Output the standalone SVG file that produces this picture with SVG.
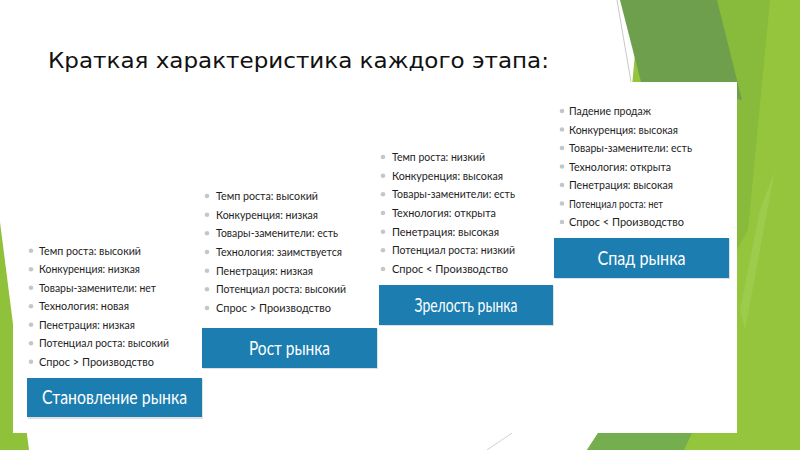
<svg xmlns="http://www.w3.org/2000/svg" width="800" height="450" viewBox="0 0 800 450">
<defs>
<style>
.title{font-family:"DejaVu Sans",Verdana,sans-serif;font-size:21px;fill:#111}
.li{font-family:Lato,"Open Sans",sans-serif;font-size:12.2px;fill:#1e1e1e}
.bl{fill:#c3c7cb}
.box{fill:#1b7db0}
.shadow{fill:#000;opacity:0.12}
.bt{font-family:Lato,"Open Sans",sans-serif;font-size:18.5px;fill:#ffffff;text-anchor:middle}
</style>
</defs>
<rect width="800" height="450" fill="#ffffff"/>
<g id="decor">
<polygon points="0,222 29,450 0,450" fill="#8fc13a"/>
<polygon points="640,0 800,0 800,450 587,450 600,430" fill="#94c53d"/>
<polygon points="717,0 770,0 748,230 737,250 700,120" fill="#88bb3b"/>
<polygon points="760,210 775,170 745,330 740,310" fill="#a4cf57" opacity="0.6"/>
<polygon points="620,0 717,0 742,100 641,82" fill="#6e9f4d"/>
<polygon points="598,433 692,433 684,450 587,450" fill="#75ae4f"/>
<line x1="617" y1="0" x2="631" y2="82" stroke="#c8c8c8" stroke-width="1"/>
<line x1="487" y1="450" x2="512" y2="433" stroke="#d0d0d0" stroke-width="1"/>
</g>
<rect x="13" y="82" width="724" height="351" fill="#ffffff"/>
<text class="title" x="48" y="68" textLength="501" lengthAdjust="spacingAndGlyphs">Краткая характеристика каждого этапа:</text>

<g id="stage1">
<g class="bl"><circle cx="31" cy="250.7" r="2.3"/><circle cx="31" cy="269.2" r="2.3"/><circle cx="31" cy="287.7" r="2.3"/><circle cx="31" cy="306.2" r="2.3"/><circle cx="31" cy="324.7" r="2.3"/><circle cx="31" cy="343.2" r="2.3"/><circle cx="31" cy="361.7" r="2.3"/></g>
<text class="li" x="39" y="254.7" textLength="102" lengthAdjust="spacingAndGlyphs">Темп роста: высокий</text>
<text class="li" x="39" y="273.2" textLength="101" lengthAdjust="spacingAndGlyphs">Конкуренция: низкая</text>
<text class="li" x="39" y="291.7" textLength="117" lengthAdjust="spacingAndGlyphs">Товары-заменители: нет</text>
<text class="li" x="39" y="310.2" textLength="90" lengthAdjust="spacingAndGlyphs">Технология: новая</text>
<text class="li" x="39" y="328.7" textLength="96" lengthAdjust="spacingAndGlyphs">Пенетрация: низкая</text>
<text class="li" x="39" y="347.2" textLength="130" lengthAdjust="spacingAndGlyphs">Потенциал роста: высокий</text>
<text class="li" x="39" y="365.7" textLength="115" lengthAdjust="spacingAndGlyphs">Спрос &gt; Производство</text>
<rect class="shadow" x="28" y="379" width="175" height="40"/>
<rect class="box" x="27" y="378" width="175" height="39"/>
<text class="bt" x="114.5" y="404" textLength="145" lengthAdjust="spacingAndGlyphs">Становление рынка</text>
</g>

<g id="stage2">
<g class="bl"><circle cx="207" cy="196" r="2.3"/><circle cx="207" cy="214.7" r="2.3"/><circle cx="207" cy="233.3" r="2.3"/><circle cx="207" cy="252" r="2.3"/><circle cx="207" cy="270.7" r="2.3"/><circle cx="207" cy="289.3" r="2.3"/><circle cx="207" cy="308" r="2.3"/></g>
<text class="li" x="216" y="200" textLength="102" lengthAdjust="spacingAndGlyphs">Темп роста: высокий</text>
<text class="li" x="216" y="218.7" textLength="102" lengthAdjust="spacingAndGlyphs">Конкуренция: низкая</text>
<text class="li" x="216" y="237.3" textLength="122" lengthAdjust="spacingAndGlyphs">Товары-заменители: есть</text>
<text class="li" x="216" y="256" textLength="126" lengthAdjust="spacingAndGlyphs">Технология: заимствуется</text>
<text class="li" x="216" y="274.7" textLength="97" lengthAdjust="spacingAndGlyphs">Пенетрация: низкая</text>
<text class="li" x="216" y="293.3" textLength="130" lengthAdjust="spacingAndGlyphs">Потенциал роста: высокий</text>
<text class="li" x="216" y="312" textLength="115" lengthAdjust="spacingAndGlyphs">Спрос &gt; Производство</text>
<rect class="shadow" x="203" y="329" width="175" height="40"/>
<rect class="box" x="202" y="328" width="175" height="40"/>
<text class="bt" x="289.5" y="354.5" textLength="81" lengthAdjust="spacingAndGlyphs">Рост рынка</text>
</g>

<g id="stage3">
<g class="bl"><circle cx="383" cy="157" r="2.3"/><circle cx="383" cy="175.7" r="2.3"/><circle cx="383" cy="194.3" r="2.3"/><circle cx="383" cy="213" r="2.3"/><circle cx="383" cy="231.7" r="2.3"/><circle cx="383" cy="250.3" r="2.3"/><circle cx="383" cy="269" r="2.3"/></g>
<text class="li" x="392" y="161" textLength="93" lengthAdjust="spacingAndGlyphs">Темп роста: низкий</text>
<text class="li" x="392" y="179.7" textLength="111" lengthAdjust="spacingAndGlyphs">Конкуренция: высокая</text>
<text class="li" x="392" y="198.3" textLength="123" lengthAdjust="spacingAndGlyphs">Товары-заменители: есть</text>
<text class="li" x="392" y="217" textLength="104" lengthAdjust="spacingAndGlyphs">Технология: открыта</text>
<text class="li" x="392" y="235.7" textLength="107" lengthAdjust="spacingAndGlyphs">Пенетрация: высокая</text>
<text class="li" x="392" y="254.3" textLength="123" lengthAdjust="spacingAndGlyphs">Потенциал роста: низкий</text>
<text class="li" x="392" y="273" textLength="116" lengthAdjust="spacingAndGlyphs">Спрос &lt; Производство</text>
<rect class="shadow" x="380" y="286" width="174" height="40"/>
<rect class="box" x="379" y="285" width="174" height="40"/>
<text class="bt" x="466" y="311.5" textLength="103" lengthAdjust="spacingAndGlyphs">Зрелость рынка</text>
</g>

<g id="stage4">
<g class="bl"><circle cx="562" cy="111" r="2.3"/><circle cx="562" cy="129.5" r="2.3"/><circle cx="562" cy="148" r="2.3"/><circle cx="562" cy="166.5" r="2.3"/><circle cx="562" cy="185" r="2.3"/><circle cx="562" cy="203.5" r="2.3"/><circle cx="562" cy="222" r="2.3"/></g>
<text class="li" x="569" y="115" textLength="82" lengthAdjust="spacingAndGlyphs">Падение продаж</text>
<text class="li" x="569" y="133.5" textLength="109" lengthAdjust="spacingAndGlyphs">Конкуренция: высокая</text>
<text class="li" x="569" y="152" textLength="123" lengthAdjust="spacingAndGlyphs">Товары-заменители: есть</text>
<text class="li" x="569" y="170.5" textLength="102" lengthAdjust="spacingAndGlyphs">Технология: открыта</text>
<text class="li" x="569" y="189" textLength="104" lengthAdjust="spacingAndGlyphs">Пенетрация: высокая</text>
<text class="li" x="569" y="207.5" textLength="94" lengthAdjust="spacingAndGlyphs">Потенциал роста: нет</text>
<text class="li" x="569" y="226" textLength="115" lengthAdjust="spacingAndGlyphs">Спрос &lt; Производство</text>
<rect class="shadow" x="555" y="239" width="175" height="40"/>
<rect class="box" x="554" y="238" width="175" height="40"/>
<text class="bt" x="641.5" y="264.5" textLength="88" lengthAdjust="spacingAndGlyphs">Спад рынка</text>
</g>
<g id="connectors"/>
</svg>
